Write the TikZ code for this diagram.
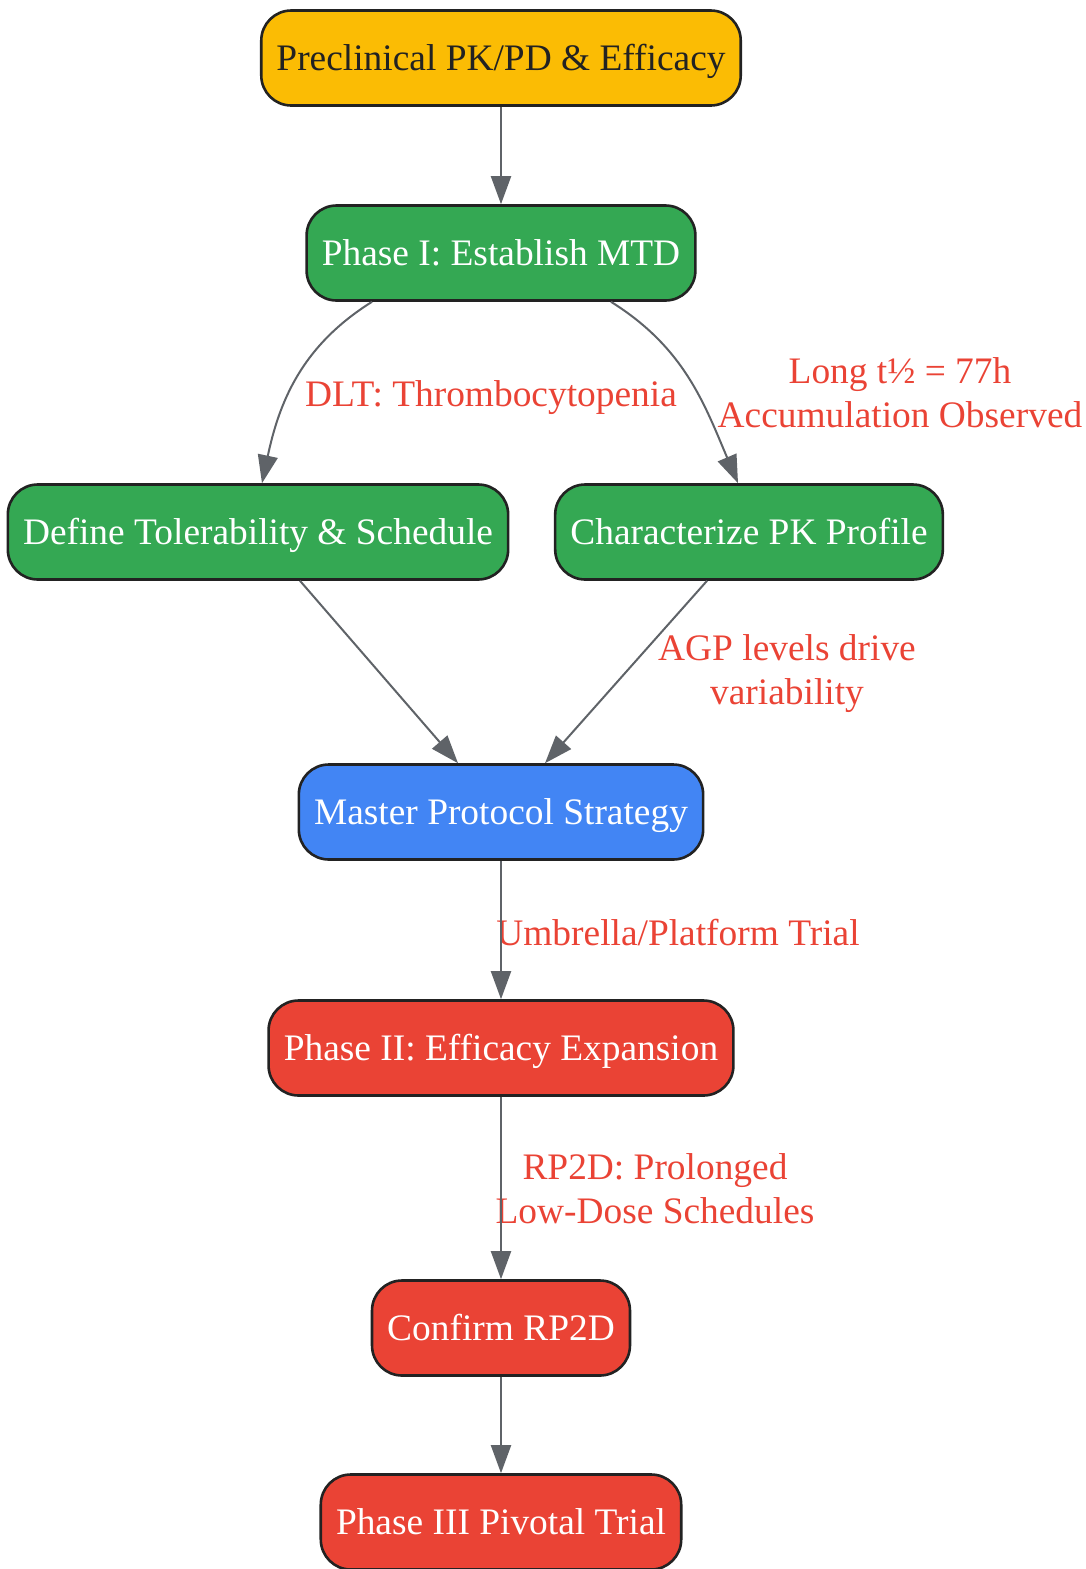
\documentclass[tikz,border=0pt]{standalone}
\usepackage{fontspec}
\setmainfont{Liberation Serif}
\usetikzlibrary{arrows.meta}
\definecolor{gyellow}{HTML}{FBBC04}
\definecolor{ggreen}{HTML}{34A853}
\definecolor{gblue}{HTML}{4285F4}
\definecolor{gred}{HTML}{EA4335}
\definecolor{edgegray}{HTML}{5F6368}
\definecolor{boxline}{HTML}{222222}
\tikzset{
  box/.style={draw=boxline, line width=1.3pt, rounded corners=15pt, minimum height=47.5pt,
    inner xsep=7.6pt, text height=15pt, text depth=2.4pt, text=white,
    font=\fontsize{18.7}{22}\selectfont},
  edge/.style={draw=edgegray, line width=1pt, -{Triangle[length=14pt,width=10pt]}},
  lbl/.style={text=gred, align=center, font=\fontsize{18.7}{22}\selectfont}
}
\begin{document}
\begin{tikzpicture}[x=0.5pt,y=0.5pt]
    \useasboundingbox (0,0) rectangle (1086,-1569);
    \node[box, fill=gyellow, text=boxline] (A) at (501,-58) {Preclinical PK/PD \& Efficacy};
    \node[box, fill=ggreen] (B) at (501,-253) {Phase I: Establish MTD};
    \node[box, fill=ggreen] (C) at (258,-532) {Define Tolerability \& Schedule};
    \node[box, fill=ggreen] (D) at (749,-532) {Characterize PK Profile};
    \node[box, fill=gblue] (E) at (501,-812) {Master Protocol Strategy};
    \node[box, fill=gred] (F) at (501,-1048) {Phase II: Efficacy Expansion};
    \node[box, fill=gred] (G) at (501,-1328) {Confirm RP2D};
    \node[box, fill=gred] (H) at (501,-1522) {Phase III Pivotal Trial};

    \node[lbl] (LB) at (491,-398) {DLT: Thrombocytopenia};
    \node[lbl] (LD) at (900,-393) {Long t½ = 77h\\Accumulation Observed};
    \node[lbl] (LE) at (787,-674) {AGP levels drive\\variability};
    \node[lbl] (LF) at (678,-933) {Umbrella/Platform Trial};
    \node[lbl] (LG) at (655,-1189) {RP2D: Prolonged\\Low-Dose Schedules};

    \draw[edge] (A) -- (B);
    \draw[edge] ([xshift=-64.5pt]B.south) to[out=212,in=78] ([xshift=2pt]C.north);
    \draw[edge] ([xshift=55pt]B.south) to[out=-32,in=113] ([xshift=-5.5pt]D.north);

    \draw[edge] ([xshift=21pt]C.south) -- ([xshift=-21.5pt]E.north);
    \draw[edge] ([xshift=-21pt]D.south) -- ([xshift=22pt]E.north);

    \draw[edge] (E) -- (F);
    \draw[edge] (F) -- (G);
    \draw[edge] (G) -- (H);
\end{tikzpicture}
\end{document}
